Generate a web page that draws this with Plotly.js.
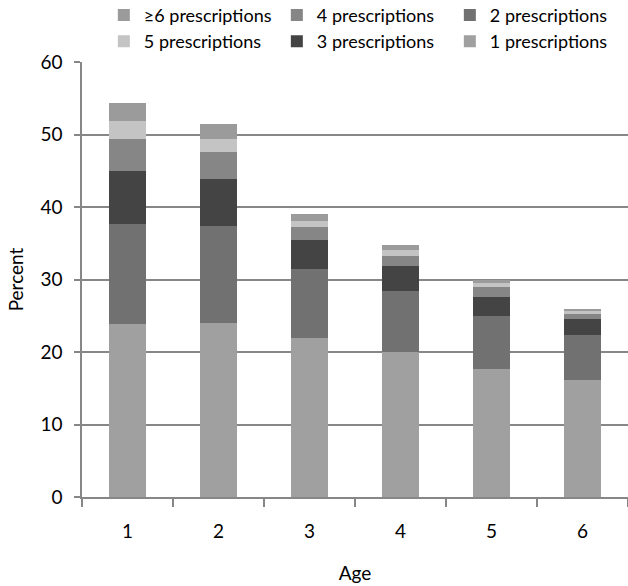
<!DOCTYPE html>
<html>
<head>
<meta charset="utf-8">
<script src="https://cdn.plot.ly/plotly-3.0.1.min.js"></script>
<style>
  body { margin: 0; background: #fff; }
  #chart { width: 628px; height: 586px; }
</style>
</head>
<body>
<div id="chart"></div>
<script>
// ages on the x axis
let ages = ["1", "2", "3", "4", "5", "6"];

// percent of children per number of prescriptions (stacked)
let rx1 = [23.8, 24.0, 21.9, 20.0, 17.7, 16.1];
let rx2 = [13.8, 13.4, 9.6, 8.4, 7.2, 6.2];
let rx3 = [7.4, 6.5, 3.9, 3.5, 2.7, 2.2];
let rx4 = [4.4, 3.7, 1.9, 1.4, 1.4, 0.7];
let rx5 = [2.5, 1.8, 0.8, 0.8, 0.5, 0.4];
let rx6 = [2.5, 2.0, 0.9, 0.6, 0.5, 0.4];

let names = ["1 prescriptions", "2 prescriptions", "3 prescriptions",
             "4 prescriptions", "5 prescriptions", "\u22656 prescriptions"];
let colors = ["#a0a0a0", "#717171", "#444444", "#868686", "#c4c4c4", "#9b9b9b"];
// legend reads: >=6, 4, 2 / 5, 3, 1
let ranks = [6, 3, 5, 2, 4, 1];

let series = [rx1, rx2, rx3, rx4, rx5, rx6];

var data = series.map(function (vals, i) {
    return {
        x: ages,
        y: vals,
        type: "bar",
        name: names[i],
        legendrank: ranks[i],
        marker: { color: colors[i], line: { width: 0 } },
        hoverinfo: "skip"
    };
});

var font = { family: "Lato, 'Open Sans', sans-serif", size: 19, color: "#000" };

var layout = {
    width: 628,
    height: 586,
    barmode: "stack",
    bargap: 0.6,
    margin: { l: 82, r: 0, t: 62, b: 89, autoexpand: false },
    paper_bgcolor: "#fff",
    plot_bgcolor: "#fff",
    font: font,
    showlegend: true,
    legend: {
        orientation: "h",
        traceorder: "normal",
        x: 0.04,
        y: 1.15,
        xanchor: "left",
        yanchor: "top",
        entrywidth: 128,
        entrywidthmode: "pixels",
        font: { family: font.family, size: 18, color: "#000" },
        tracegroupgap: 0
    },
    xaxis: {
        type: "category",
        tickson: "boundaries",
        ticks: "outside",
        ticklen: 8,
        tickcolor: "#878787",
        tickwidth: 1.5,
        showline: true,
        linecolor: "#878787",
        linewidth: 1.5,
        showgrid: false,
        ticklabelstandoff: 16,
        tickfont: { size: 19 },
        title: { text: "Age", font: { size: 19 }, standoff: 26 }
    },
    yaxis: {
        range: [0, 60],
        dtick: 10,
        ticks: "outside",
        ticklen: 6,
        tickcolor: "#878787",
        tickwidth: 1.5,
        showline: true,
        linecolor: "#878787",
        linewidth: 1.5,
        gridcolor: "#878787",
        gridwidth: 1.5,
        zeroline: false,
        ticklabelstandoff: 8,
        tickfont: { size: 19 },
        title: { text: "Percent", font: { size: 19 }, standoff: 12 }
    }
};

Plotly.newPlot("chart", data, layout, { displayModeBar: false });
</script>
</body>
</html>
